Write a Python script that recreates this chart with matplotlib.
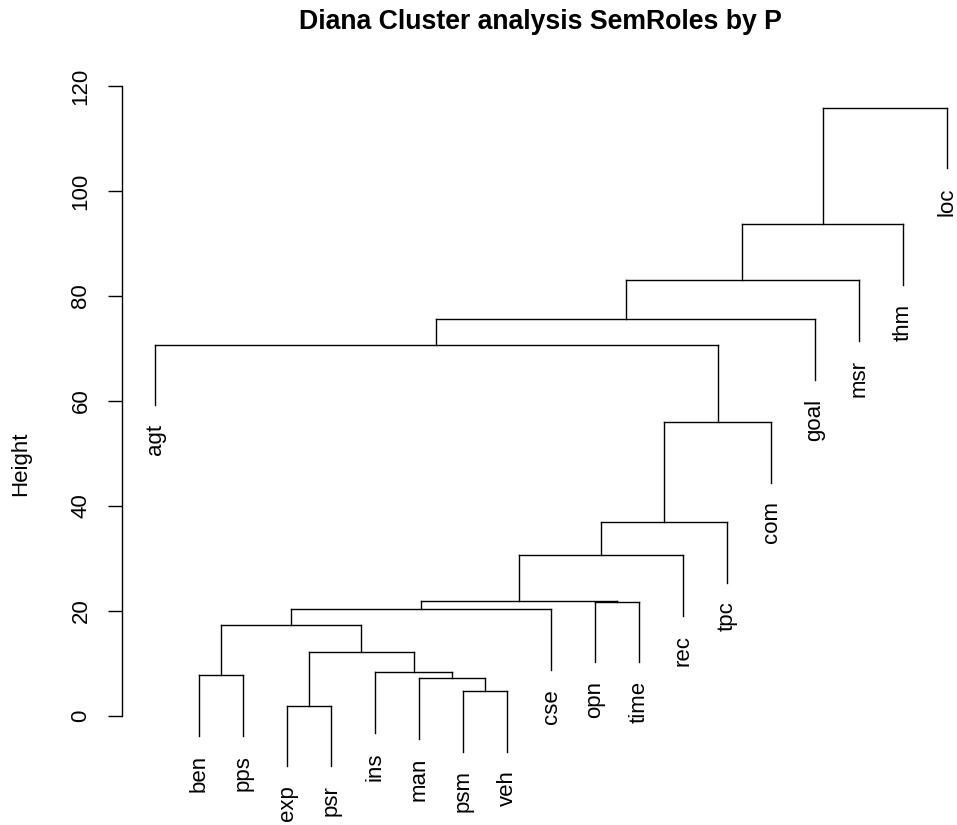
import matplotlib.pyplot as plt
import matplotlib.transforms as mtransforms

plt.rcParams['font.family'] = ['Liberation Sans', 'DejaVu Sans']

# Листья дендрограммы (в порядке слева направо)
labels = ['agt', 'ben', 'pps', 'exp', 'psr', 'ins', 'man', 'psm', 'veh', 'cse',
          'opn', 'time', 'rec', 'tpc', 'com', 'goal', 'msr', 'thm', 'loc']

# Матрица слияний как в R: отрицательное = лист (1..n), положительное = номер слияния
merge_left = [-4, -8, -7, -2, -6, 1, 4, 7, -11, 8, 10, 11, 12, -1, 14, 15, 16, 17]
merge_right = [-5, -9, 2, -3, 3, 5, 6, -10, -12, 9, -13, -14, -15, 13, -16, -17, -18, -19]
heights = [2.0, 4.8, 7.3, 7.8, 8.3, 12.25, 17.3, 20.3, 21.8, 21.95,
           30.65, 37.0, 56.05, 70.75, 75.6, 83.05, 93.7, 115.9]

W, H = 957, 825
fs = 16
fig = plt.figure(figsize=(W / 100, H / 100), dpi=100)
# оси в пикселях: слева 122, справа 957, снизу 716 (y=0), сверху 86 (y=120)
ax = fig.add_axes([122 / W, (H - 716) / H, (957 - 122) / W, (716 - 86) / H])
ax.set_xlim(1 - 33 / 44, 19 + 10 / 44)
ax.set_ylim(0, 120)

hang = 0.1 * max(heights)
xpos = {}

def node(i):
    # координата x и высота узла
    if i < 0:
        return float(-i), None
    return xpos[i], heights[i - 1]

lw = 1.0
off = mtransforms.offset_copy(ax.transData, fig=fig, x=0, y=-13.5, units='points')
for k in range(len(heights)):
    h = heights[k]
    xs = []
    for child in (merge_left[k], merge_right[k]):
        x, hc = node(child)
        if hc is None:
            hc = h - hang
            # подпись листа
            ax.text(x, hc, labels[-child - 1], rotation=90, ha='center', va='top',
                    fontsize=fs, transform=off, clip_on=False)
        ax.plot([x, x], [hc, h], color='black', lw=lw, clip_on=False)
        xs.append(x)
    ax.plot(xs, [h, h], color='black', lw=lw, clip_on=False)
    xpos[k + 1] = (xs[0] + xs[1]) / 2

for s in ['top', 'right', 'bottom']:
    ax.spines[s].set_visible(False)
ax.spines['left'].set_bounds(0, 120)
ax.spines['left'].set_linewidth(lw)
ax.set_xticks([])
ax.set_yticks(range(0, 121, 20))
ax.tick_params(axis='y', length=10, width=lw, labelsize=fs, pad=12)
for t in ax.get_yticklabels():
    t.set_rotation(90)
    t.set_va('center')

fig.text(21 / W, 1 - 464 / H, 'Height', rotation=90, ha='center', va='center', fontsize=fs)
fig.text(540 / W, 1 - 29 / H, 'Diana Cluster analysis SemRoles by P', ha='center',
         va='baseline', fontsize=19.2, fontweight='bold')

fig.savefig('out.png', dpi=100)
